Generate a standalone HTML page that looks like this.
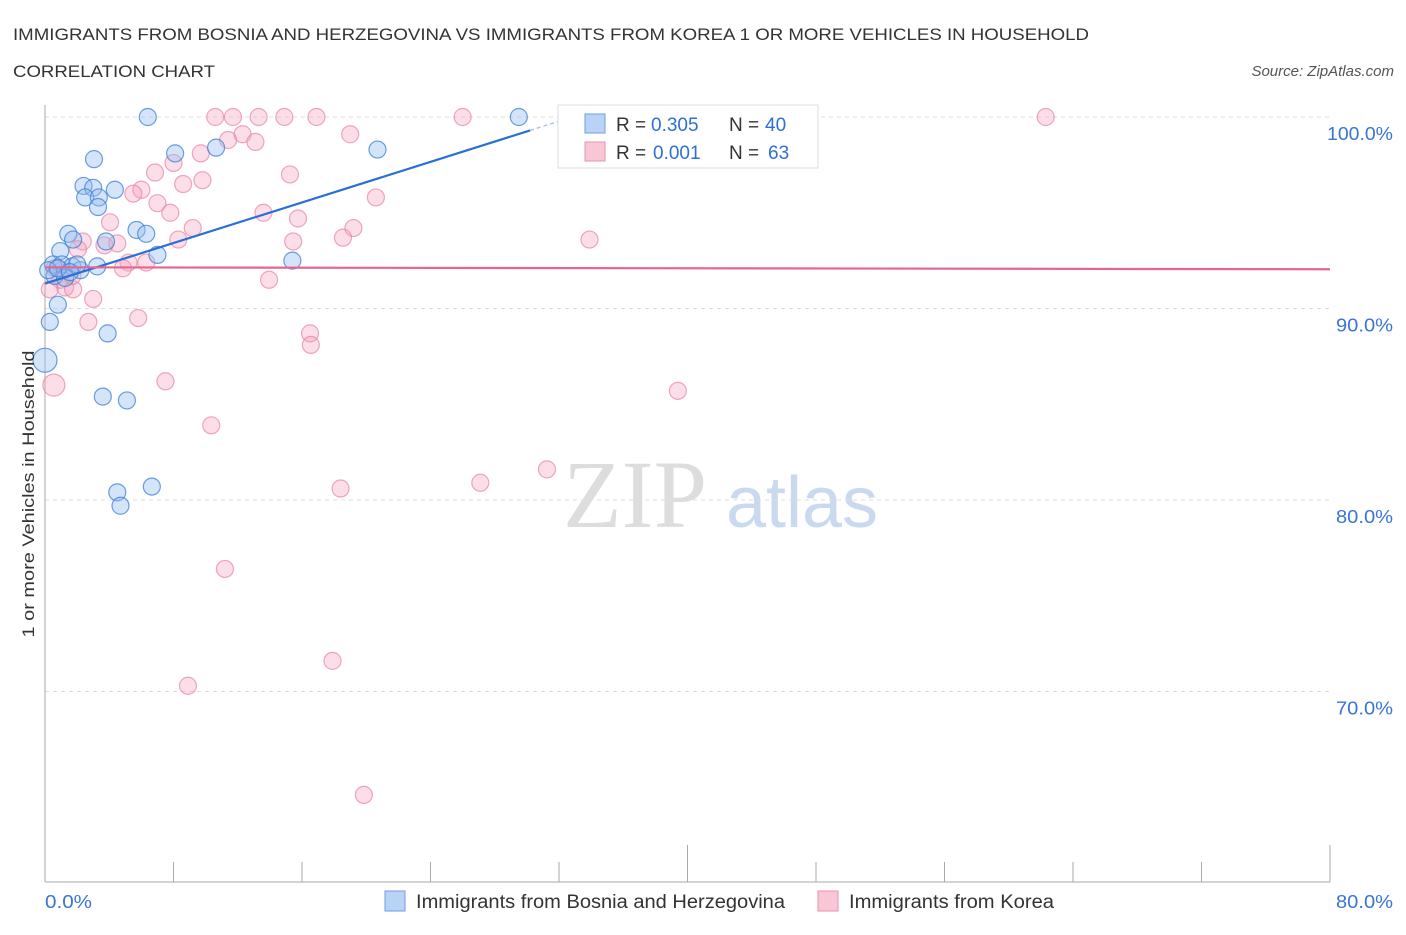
<!DOCTYPE html>
<html><head><meta charset="utf-8"><style>
body{margin:0;background:#fff;font-family:"Liberation Sans",sans-serif;}
svg text{font-family:"Liberation Sans",sans-serif;}
</style></head><body>
<svg id="chart" width="1406" height="930" viewBox="0 0 1406 930" xmlns="http://www.w3.org/2000/svg">
<text x="13" y="40" font-size="17" fill="#333" textLength="1076" lengthAdjust="spacingAndGlyphs">IMMIGRANTS FROM BOSNIA AND HERZEGOVINA VS IMMIGRANTS FROM KOREA 1 OR MORE VEHICLES IN HOUSEHOLD</text>
<text x="13" y="77" font-size="17" fill="#333" textLength="202" lengthAdjust="spacingAndGlyphs">CORRELATION CHART</text>
<text x="1394" y="76" font-size="15" fill="#555" text-anchor="end" font-style="italic">Source: ZipAtlas.com</text>
<g>
<text x="635" y="527" font-size="96" fill="#ddd" text-anchor="middle" style="font-family:'Liberation Serif',serif">ZIP</text>
<text x="802" y="527" font-size="72" fill="#c9daf0" text-anchor="middle">atlas</text>
</g>
<g id="grid"></g>
<g id="axes"></g>
<g id="pts"></g>
<g id="trend"></g>
<text transform="translate(34,494) rotate(-90)" font-size="17" fill="#333" text-anchor="middle" textLength="287" lengthAdjust="spacingAndGlyphs">1 or more Vehicles in Household</text>
<g>
<rect x="558" y="105" width="260" height="63" fill="#fff" stroke="#ddd"/>
<rect x="585" y="114" width="20" height="19" fill="#b9d3f7" stroke="#6d9fe0"/>
<text x="616" y="131" font-size="19" fill="#333">R =</text>
<text x="651" y="131" font-size="19" fill="#2f6fd6">0.305</text>
<text x="729" y="131" font-size="19" fill="#333">N =</text>
<text x="765" y="131" font-size="19" fill="#2f6fd6">40</text>
<rect x="585" y="142" width="20" height="19" fill="#f8c6d5" stroke="#e892ae"/>
<text x="616" y="159" font-size="19" fill="#333">R =</text>
<text x="653" y="159" font-size="19" fill="#2f6fd6">0.001</text>
<text x="729" y="159" font-size="19" fill="#333">N =</text>
<text x="768" y="159" font-size="19" fill="#2f6fd6">63</text>
</g>
<g>
<rect x="385" y="891" width="20" height="20" fill="#b9d3f7" stroke="#6d9fe0"/>
<text x="416" y="908" font-size="19" fill="#333" textLength="369" lengthAdjust="spacingAndGlyphs">Immigrants from Bosnia and Herzegovina</text>
<rect x="818" y="891" width="20" height="20" fill="#f8c6d5" stroke="#e892ae"/>
<text x="849" y="908" font-size="19" fill="#333" textLength="205" lengthAdjust="spacingAndGlyphs">Immigrants from Korea</text>
</g>
</svg>
<script>
const blueX=[6.4,3.05,8.1,10.65,20.7,29.5,2.4,3.0,4.35,2.5,3.35,3.3,1.45,1.75,3.8,5.7,6.3,7.0,0.95,0.5,1.05,1.7,2.2,3.25,0.6,0.8,0.3,0,3.9,3.6,5.1,15.4,4.5,4.7,6.65,1.25,0.2,2.0,0.8,1.55];
const blueY=[100,97.8,98.1,98.4,98.3,100,96.4,96.3,96.2,95.8,95.8,95.3,93.9,93.6,93.5,94.1,93.9,92.8,93.0,92.3,92.3,92.2,92.0,92.2,91.7,90.2,89.3,87.3,88.7,85.4,85.2,92.5,80.4,79.7,80.7,91.6,92.0,92.3,92.1,91.9];
const pinkX=[10.6,11.7,13.3,14.9,16.9,26.0,39.3,62.3,11.4,12.3,13.1,19.0,9.7,8.0,6.85,15.25,9.8,8.6,6.0,5.5,7.0,7.8,13.6,15.75,20.6,4.05,9.2,19.2,18.55,8.3,15.45,33.9,3.7,4.5,2.35,2.05,5.2,6.3,4.85,13.95,0.95,1.25,1.75,3.0,0.3,2.7,5.8,16.5,16.55,0.55,7.5,39.4,10.35,31.25,27.1,18.4,11.2,17.9,8.9,19.85,1.05,1.7,0.6];
const pinkY=[100,100,100,100,100,100,100,100,98.8,99.1,98.7,99.1,98.1,97.6,97.1,97.0,96.7,96.5,96.2,96.0,95.5,95.0,95.0,94.7,95.8,94.5,94.2,94.2,93.7,93.6,93.5,93.6,93.3,93.4,93.5,93.1,92.4,92.4,92.1,91.5,91.5,91.1,91.0,90.5,91.0,89.3,89.5,88.7,88.1,86.0,86.2,85.7,83.9,81.6,80.9,80.6,76.4,71.6,70.3,64.6,92.0,91.7,92.1];
const yTicks=[100,90,80,70];
const yTickLabels=["100.0%","90.0%","80.0%","70.0%"];
const xTickVals=[0,8,16,24,32,40,48,56,64,72,80];
const xTickLabels=["0.0%","80.0%"];
const blueTrendX=[0,30.2];const blueTrendY=[91.3,99.3];
const pinkTrendX=[0,80];const pinkTrendY=[92.15,92.05];
const X=v=>45+v/80*1285;
const Y=v=>117+(100-v)*19.15;
const NS="http://www.w3.org/2000/svg";
function mk(tag,attrs,parent){const e=document.createElementNS(NS,tag);for(const k in attrs)e.setAttribute(k,attrs[k]);parent.appendChild(e);return e;}
const grid=document.getElementById('grid'),axes=document.getElementById('axes'),pts=document.getElementById('pts'),trend=document.getElementById('trend');
yTicks.forEach((t,i)=>{
 const l=mk('line',{x1:45,x2:1330,y1:Y(t),y2:Y(t),stroke:'#ddd','stroke-dasharray':'4,4'},grid);
 
 
 const w=yTickLabels[i].length===6?66:57;
 const tx=mk('text',{x:1393-w,y:Y(t)+23,'font-size':18,fill:'#3a75d4',textLength:w,lengthAdjust:'spacingAndGlyphs'},grid);
 tx.textContent=yTickLabels[i];
 
 
});
const ya=mk('line',{x1:45,x2:45,y1:105,y2:882,stroke:'#aaa'},axes);


const xa=mk('line',{x1:45,x2:1330,y1:882,y2:882,stroke:'#aaa'},axes);


xTickVals.forEach((v,i)=>{
 const tall=(i===5||i===10);
 const t=mk('line',{x1:X(v),x2:X(v),y1:tall?845:862,y2:882,stroke:'#aaa'},axes);
 
 
});
const xl0=mk('text',{x:45,y:908,'font-size':18,fill:'#3a75d4',textLength:47,lengthAdjust:'spacingAndGlyphs'},axes);xl0.textContent=xTickLabels[0];


const xl1=mk('text',{x:1336,y:908,'font-size':18,fill:'#3a75d4',textLength:57,lengthAdjust:'spacingAndGlyphs'},axes);xl1.textContent=xTickLabels[1];


pinkX.forEach((v,i)=>{
 const big=(v<0.7&&pinkY[i]<88);
 const c=mk('circle',{cx:X(v),cy:Y(pinkY[i]),r:big?11:8.5,fill:'rgba(244,160,188,0.35)',stroke:'rgba(232,130,165,0.7)','stroke-width':1.2},pts);
 
 
});
blueX.forEach((v,i)=>{
 const big=(v<0.1&&blueY[i]<88);
 const c=mk('circle',{cx:X(v),cy:Y(blueY[i]),r:big?12:8.5,fill:'rgba(150,190,240,0.4)',stroke:'rgba(60,125,215,0.75)','stroke-width':1.2},pts);
 
 
});
const bt=mk('line',{x1:X(blueTrendX[0]),y1:Y(blueTrendY[0]),x2:X(blueTrendX[1]),y2:Y(blueTrendY[1]),stroke:'#2a6fd6','stroke-width':2.2},trend);


const slope=(blueTrendY[1]-blueTrendY[0])/(blueTrendX[1]-blueTrendX[0]);
const xe=blueTrendX[1]+(100-blueTrendY[1])/slope;
const bd=mk('line',{x1:X(blueTrendX[1]),y1:Y(blueTrendY[1]),x2:X(xe),y2:Y(100),stroke:'#9bb9e6','stroke-width':1.2,'stroke-dasharray':'4,3'},trend);


const pt=mk('line',{x1:X(pinkTrendX[0]),y1:Y(pinkTrendY[0]),x2:X(pinkTrendX[1]),y2:Y(pinkTrendY[1]),stroke:'#e8648f','stroke-width':2.2},trend);


</script>
</body></html>
